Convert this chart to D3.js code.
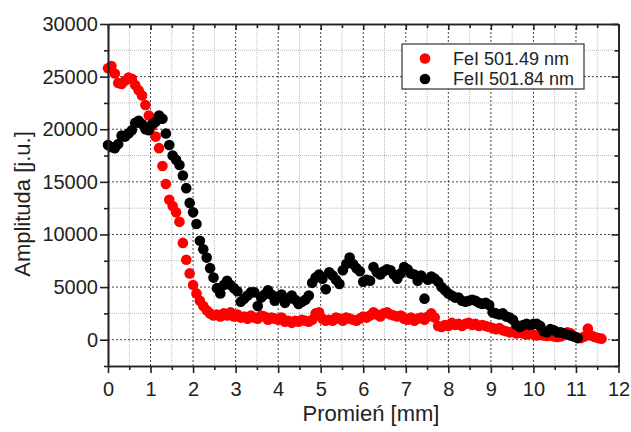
<!DOCTYPE html>
<html>
<meta charset="utf-8">
<style>
  body { margin: 0; background: #fff; }
  svg { width: 631px; height: 432px; display: block; }
  text { font-family: "Liberation Sans", Arial, sans-serif; fill: #222; }
  .axis path, .axis line { stroke: #222; }
  .axis text { font-size: 20px; fill: #222; }
</style>
<body>
  <svg></svg>
</body>
<script src="https://d3js.org/d3.v7.min.js"></script>
<script>

  // DATA
  var radius = [0.00,0.08,0.16,0.24,0.32,0.40,0.48,0.56,0.64,0.72,0.80,0.88,0.96,1.04,1.12,1.20,1.28,1.36,1.44,1.52,
    1.60,1.68,1.76,1.84,1.92,2.00,2.08,2.16,2.24,2.32,2.40,2.48,2.56,2.64,2.72,2.80,2.88,2.96,3.04,3.12,
    3.20,3.28,3.36,3.44,3.52,3.60,3.68,3.76,3.84,3.92,4.00,4.08,4.16,4.24,4.32,4.40,4.48,4.56,4.64,4.72,
    4.80,4.88,4.96,5.04,5.12,5.20,5.28,5.36,5.44,5.52,5.60,5.68,5.76,5.84,5.92,6.00,6.08,6.16,6.24,6.32,
    6.40,6.48,6.56,6.64,6.72,6.80,6.88,6.96,7.04,7.12,7.20,7.28,7.36,7.44,7.52,7.60,7.68,7.76,7.84,7.92,
    8.00,8.08,8.16,8.24,8.32,8.40,8.48,8.56,8.64,8.72,8.80,8.88,8.96,9.04,9.12,9.20,9.28,9.36,9.44,9.52,
    9.60,9.68,9.76,9.84,9.92,10.00,10.08,10.16,10.24,10.32,10.40,10.48,10.56,10.64,10.72,10.80,10.88,10.96,11.04,11.12,
    11.20,11.28,11.36,11.44,11.52,11.60];

  var feI = [25800,26000,25300,24400,24300,24600,24900,24800,24200,23700,23200,22300,21300,20300,19300,18200,16500,14800,13300,12700,
    12100,11200,9200,7600,6300,5200,4400,3700,3200,2800,2500,2300,2400,2200,2500,2300,2600,2200,2400,2100,
    2200,2000,2300,2100,2000,2300,2200,1900,2100,2000,1900,2100,1700,1800,1600,1800,1700,1900,1800,1700,
    1900,2500,2600,2000,1800,1900,1800,2100,2000,1800,2100,2000,1900,1800,2000,2200,2100,2300,2600,2400,
    2200,2500,2600,2400,2300,2200,2300,2000,1900,2100,1800,2000,2100,1900,2200,2500,2100,1300,1200,1400,
    1300,1600,1400,1500,1300,1500,1600,1400,1500,1300,1400,1300,1200,1100,1000,1100,900,800,700,800,
    600,700,600,500,600,500,400,500,400,350,400,300,250,300,500,700,600,300,200,150,
    300,1050,400,250,150,100];

  var feII = [18500,18300,18200,18600,19400,19300,19600,19900,20600,20800,20500,20000,19900,20500,20700,21300,21000,19600,18500,17500,
    17100,16600,15600,14400,13000,12100,11000,9400,8600,7800,6800,5900,4900,4400,5200,5600,5200,4900,4600,3600,
    3900,4200,4500,4500,3200,4000,4300,4700,4300,3700,4100,4300,3500,3900,4200,3800,3400,3600,3800,4200,
    5400,5900,6200,5800,4800,6400,6100,5700,5300,6600,7200,7800,7200,6800,6500,5500,5700,5600,6900,6400,
    6200,6500,6700,6600,6200,5800,6300,6900,6700,6300,6200,5600,6100,3900,5700,6000,5800,5500,5000,4700,
    4400,4200,4000,4000,3700,3600,3700,3800,3700,3500,3400,3500,3300,2600,2500,2400,2500,2200,2100,1900,
    1400,1200,1400,1500,1400,1500,1500,1300,800,700,1000,900,700,700,600,500,400,300,150];

  var seriesNames = ["FeI 501.49 nm", "FeII 501.84 nm"];
  var seriesColors = ["#ff0000", "#000000"];

  var xTicks = [0,1,2,3,4,5,6,7,8,9,10,11,12];
  var xMinor = [0.5,1.5,2.5,3.5,4.5,5.5,6.5,7.5,8.5,9.5,10.5,11.5];
  var yTicks = [0,5000,10000,15000,20000,25000,30000];
  var yMinor = [-2500,2500,7500,12500,17500,22500,27500];

  var margin = {top: 24, left: 108, right: 12.5, bottom: 66};
  var width = 631 - margin.left - margin.right,
      height = 432 - margin.top - margin.bottom;

  var svg = d3.select("svg").attr("viewBox", "0 0 631 432");
  var g = svg.append("g").attr("transform", "translate(" + margin.left + "," + margin.top + ")");

  var xScale = d3.scaleLinear().domain([0, 12]).range([0, width]);
  var yScale = d3.scaleLinear().domain([-2500, 30000]).range([height, 0]);

  // GRID
  g.append("g").selectAll("line").data(xMinor).join("line")
    .attr("x1", xScale).attr("x2", xScale).attr("y1", 0).attr("y2", height)
    .attr("stroke", "#bbb").attr("stroke-dasharray", "1,1");
  g.append("g").selectAll("line").data(yMinor.slice(1)).join("line")
    .attr("y1", yScale).attr("y2", yScale).attr("x1", 0).attr("x2", width)
    .attr("stroke", "#bbb").attr("stroke-dasharray", "1,1");
  g.append("g").selectAll("line").data(xTicks.slice(1, -1)).join("line")
    .attr("x1", xScale).attr("x2", xScale).attr("y1", 0).attr("y2", height)
    .attr("stroke", "#444").attr("stroke-dasharray", "2,2");
  g.append("g").selectAll("line").data(yTicks.slice(0, -1)).join("line")
    .attr("y1", yScale).attr("y2", yScale).attr("x1", 0).attr("x2", width)
    .attr("stroke", "#444").attr("stroke-dasharray", "2,2");

  // POINTS
  var pts1 = radius.map(function(r, i) { return [r, feI[i]]; });
  var pts2 = feII.map(function(v, i) { return [radius[i], v]; });

  g.append("g").selectAll("circle").data(pts1).join("circle")
    .attr("cx", function(d) { return xScale(d[0]); })
    .attr("cy", function(d) { return yScale(d[1]); })
    .attr("r", 5.3).attr("fill", seriesColors[0]);
  g.append("g").selectAll("circle").data(pts2).join("circle")
    .attr("cx", function(d) { return xScale(d[0]); })
    .attr("cy", function(d) { return yScale(d[1]); })
    .attr("r", 5.3).attr("fill", seriesColors[1]);

  // AXES
  var xAxis = d3.axisBottom(xScale).tickValues(xTicks).tickSize(7).tickSizeOuter(0).tickPadding(5).tickFormat(d3.format("d"));
  var yAxis = d3.axisLeft(yScale).tickValues(yTicks).tickSize(8).tickSizeOuter(0).tickPadding(2).tickFormat(d3.format("d"));

  g.append("g").attr("class", "x axis").attr("transform", "translate(0," + height + ")").call(xAxis);
  g.append("g").attr("class", "x axis").attr("transform", "translate(0," + height + ")")
    .call(d3.axisBottom(xScale).tickValues(xMinor).tickSize(4).tickSizeOuter(0).tickFormat(""));
  g.append("g").attr("class", "y axis").call(yAxis);
  g.append("g").attr("class", "y axis")
    .call(d3.axisLeft(yScale).tickValues(yMinor).tickSize(4).tickSizeOuter(0).tickFormat(""));

  // mirrored inward ticks
  g.append("g").attr("class", "axis").call(d3.axisBottom(xScale).tickValues(xTicks).tickSize(6).tickSizeOuter(0).tickFormat(""));
  g.append("g").attr("class", "axis").call(d3.axisBottom(xScale).tickValues(xMinor).tickSize(4).tickSizeOuter(0).tickFormat(""));
  g.append("g").attr("class", "axis").attr("transform", "translate(" + width + ",0)")
    .call(d3.axisLeft(yScale).tickValues(yTicks).tickSize(7).tickSizeOuter(0).tickFormat(""));
  g.append("g").attr("class", "axis").attr("transform", "translate(" + width + ",0)")
    .call(d3.axisLeft(yScale).tickValues(yMinor).tickSize(4).tickSizeOuter(0).tickFormat(""));

  g.selectAll(".axis path").attr("stroke-width", 1.6);
  g.selectAll(".axis line").attr("stroke-width", 1.6);
  g.selectAll(".x.axis text").attr("dy", "0.9em");

  // AXIS TITLES
  svg.append("text").attr("x", 371).attr("y", 421).attr("text-anchor", "middle")
    .style("font-size", "22px").text("Promień [mm]");
  svg.append("text").attr("transform", "translate(30,204) rotate(-90)").attr("text-anchor", "middle")
    .style("font-size", "22px").text("Amplituda [j.u.]");

  // LEGEND
  var legend = svg.append("g").attr("transform", "translate(402,44)");
  legend.append("rect").attr("width", 182).attr("height", 45)
    .attr("fill", "#fff").attr("stroke", "#333").attr("stroke-width", 1.2);
  seriesNames.forEach(function(name, i) {
    legend.append("circle").attr("cx", 23).attr("cy", 14.5 + i * 20.5).attr("r", 5.3).attr("fill", seriesColors[i]);
    legend.append("text").attr("x", 51).attr("y", 20.5 + i * 20.5).style("font-size", "18px").text(name);
  });

</script>
</html>
